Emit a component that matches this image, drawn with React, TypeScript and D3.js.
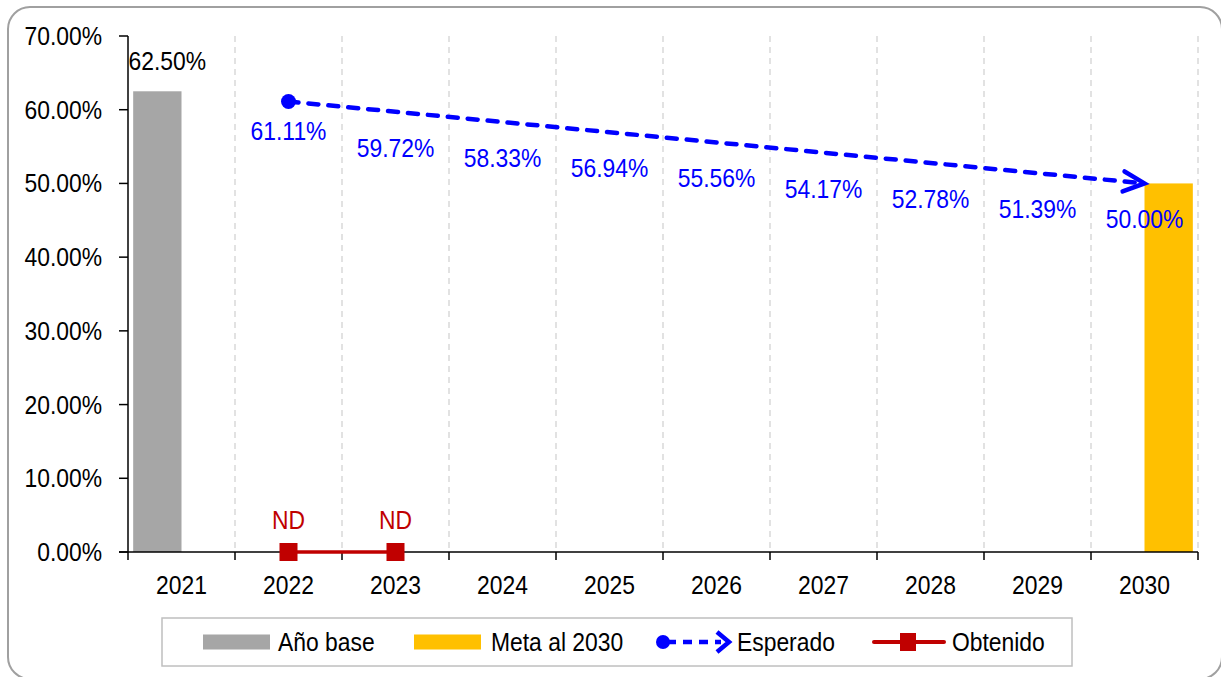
import React from "react";
import * as d3 from "d3";

const categories = ["2021", "2022", "2023", "2024", "2025", "2026", "2027", "2028", "2029", "2030"];
const anoBase: (number | null)[] = [0.625, null, null, null, null, null, null, null, null, null];
const meta2030: (number | null)[] = [null, null, null, null, null, null, null, null, null, 0.5];
const esperado: (number | null)[] = [null, 0.6111, 0.5972, 0.5833, 0.5694, 0.5556, 0.5417, 0.5278, 0.5139, 0.5];
const obtenido: (number | null)[] = [null, 0, 0, null, null, null, null, null, null, null];
const obtenidoLabels: (string | null)[] = [null, "ND", "ND", null, null, null, null, null, null, null];
const yTicks = [0, 0.1, 0.2, 0.3, 0.4, 0.5, 0.6, 0.7];
const legendItems = ["Año base", "Meta al 2030", "Esperado", "Obtenido"];

const W = 1221;
const H = 677;
const FONT = "'Liberation Sans', Arial, Helvetica, sans-serif";
const GRAY = "#a6a6a6";
const GOLD = "#ffc000";
const BLUE = "#0000ff";
const RED = "#c00000";

const pct = (v: number) => (v * 100).toFixed(2) + "%";

function T({ x, y, children, anchor = "middle", fill = "#000", size = 26 }: any) {
  return (
    <text
      transform={`translate(${x},${y}) scale(0.88,1)`}
      textAnchor={anchor}
      dominantBaseline="central"
      fontSize={size}
      fill={fill}
      fontFamily={FONT}
    >
      {children}
    </text>
  );
}

export default function App() {
  const left = 128, right = 1198, top = 36, bottom = 552;
  const y = d3.scaleLinear().domain([0, 0.7]).range([bottom, top]);
  const x = d3.scaleBand<string>().domain(categories).range([left, right]).padding(0);
  const bw = x.bandwidth();
  const inner = d3.scaleBand<string>().domain(["base", "meta"]).range([0, bw]).paddingInner(0).paddingOuter(0.107);
  const cx = (i: number) => (x(categories[i]) as number) + bw / 2;

  const espPts = esperado
    .map((v, i) => (v == null ? null : ([cx(i), y(v)] as [number, number])))
    .filter((p): p is [number, number] => p !== null);
  const obtPts = obtenido
    .map((v, i) => (v == null ? null : ([cx(i), y(v)] as [number, number])))
    .filter((p): p is [number, number] => p !== null);
  const line = d3.line();

  const tip = espPts[espPts.length - 1];
  const prev = espPts[espPts.length - 2];
  const ang = Math.atan2(tip[1] - prev[1], tip[0] - prev[0]);
  const rot = (dx: number, dy: number) => [
    tip[0] + dx * Math.cos(ang) - dy * Math.sin(ang),
    tip[1] + dx * Math.sin(ang) + dy * Math.cos(ang),
  ];
  const a1 = rot(-21, -10);
  const a2 = rot(-21, 10);

  const boundaries = categories.map((c) => x(c) as number).concat([right]);

  const legY = 642;
  const legX = [203, 414, 655, 872];

  return (
    <svg width={W} height={H} style={{ position: "absolute", left: 0, top: 0, display: "block", background: "#fff" }}>
      <rect x={8} y={7} width={1214} height={672} rx={22} ry={22} fill="#fff" stroke="#a0a0a0" strokeWidth={2} />

      {boundaries.slice(1).map((bx, i) => (
        <line key={"g" + i} x1={bx} x2={bx} y1={top} y2={bottom} stroke="#d9d9d9" strokeWidth={1.5} strokeDasharray="6,5" />
      ))}

      {anoBase.map((v, i) =>
        v == null ? null : (
          <rect key={"b" + i} x={(x(categories[i]) as number) + (inner("base") as number)} y={y(v)} width={inner.bandwidth()} height={y(0) - y(v)} fill={GRAY} />
        )
      )}
      {meta2030.map((v, i) =>
        v == null ? null : (
          <rect key={"m" + i} x={(x(categories[i]) as number) + (inner("meta") as number)} y={y(v)} width={inner.bandwidth()} height={y(0) - y(v)} fill={GOLD} />
        )
      )}

      <line x1={left} x2={left} y1={top} y2={bottom} stroke="#000" strokeWidth={1.5} />
      {yTicks.map((t) => (
        <g key={"yt" + t}>
          <line x1={left - 9} x2={left} y1={y(t)} y2={y(t)} stroke="#000" strokeWidth={1.5} />
          <T x={102} y={y(t)} anchor="end">{pct(t)}</T>
        </g>
      ))}
      <line x1={left - 9} x2={right} y1={bottom} y2={bottom} stroke="#000" strokeWidth={1.5} />
      {boundaries.map((bx, i) => (
        <line key={"xt" + i} x1={bx} x2={bx} y1={bottom} y2={bottom + 8} stroke="#000" strokeWidth={1.5} />
      ))}
      {categories.map((c, i) => (
        <T key={"xl" + c} x={cx(i)} y={585}>{c}</T>
      ))}

      {anoBase.map((v, i) =>
        v == null ? null : (
          <T key={"bl" + i} x={(x(categories[i]) as number) + (inner("base") as number) + inner.bandwidth() / 2 + 10} y={y(v) - 30}>
            {pct(v)}
          </T>
        )
      )}

      <path d={line(espPts) as string} fill="none" stroke={BLUE} strokeWidth={4.5} strokeDasharray="10,10" strokeLinecap="round" />
      <polyline points={`${a1[0]},${a1[1]} ${tip[0]},${tip[1]} ${a2[0]},${a2[1]}`} fill="none" stroke={BLUE} strokeWidth={4.5} strokeLinecap="round" strokeLinejoin="miter" />
      <circle cx={espPts[0][0]} cy={espPts[0][1]} r={7.5} fill={BLUE} />
      {esperado.map((v, i) =>
        v == null ? null : (
          <T key={"el" + i} x={cx(i)} y={y(v) + (i === 1 ? 29 : 36)} fill={BLUE}>
            {pct(v)}
          </T>
        )
      )}

      <path d={line(obtPts) as string} fill="none" stroke={RED} strokeWidth={3.5} />
      {obtPts.map((p, i) => (
        <rect key={"os" + i} x={p[0] - 9} y={p[1] - 9} width={18} height={18} fill={RED} />
      ))}
      {obtenido.map((v, i) =>
        v == null || obtenidoLabels[i] == null ? null : (
          <T key={"ol" + i} x={cx(i)} y={y(v) - 32} fill={RED}>
            {obtenidoLabels[i]}
          </T>
        )
      )}

      <rect x={162} y={618} width={910} height={48} fill="#fff" stroke="#bfbfbf" strokeWidth={1.5} />
      <rect x={legX[0]} y={legY - 7.5} width={67} height={15} fill={GRAY} />
      <T x={legX[0] + 75} y={legY} anchor="start">{legendItems[0]}</T>
      <rect x={legX[1]} y={legY - 7.5} width={67} height={15} fill={GOLD} />
      <T x={legX[1] + 77} y={legY} anchor="start">{legendItems[1]}</T>
      <g>
        <line x1={legX[2] + 12} x2={legX[2] + 66} y1={legY} y2={legY} stroke={BLUE} strokeWidth={4.5} strokeDasharray="9,7" />
        <circle cx={legX[2] + 8} cy={legY} r={7} fill={BLUE} />
        <polyline points={`${legX[2] + 62},${legY - 10} ${legX[2] + 74},${legY} ${legX[2] + 62},${legY + 10}`} fill="none" stroke={BLUE} strokeWidth={4.5} />
      </g>
      <T x={legX[2] + 82} y={legY} anchor="start">{legendItems[2]}</T>
      <g>
        <line x1={legX[3] + 2} x2={legX[3] + 72} y1={legY} y2={legY} stroke={RED} strokeWidth={4} strokeLinecap="round" />
        <rect x={legX[3] + 28} y={legY - 9} width={16} height={18} fill={RED} />
      </g>
      <T x={legX[3] + 80} y={legY} anchor="start">{legendItems[3]}</T>
    </svg>
  );
}
